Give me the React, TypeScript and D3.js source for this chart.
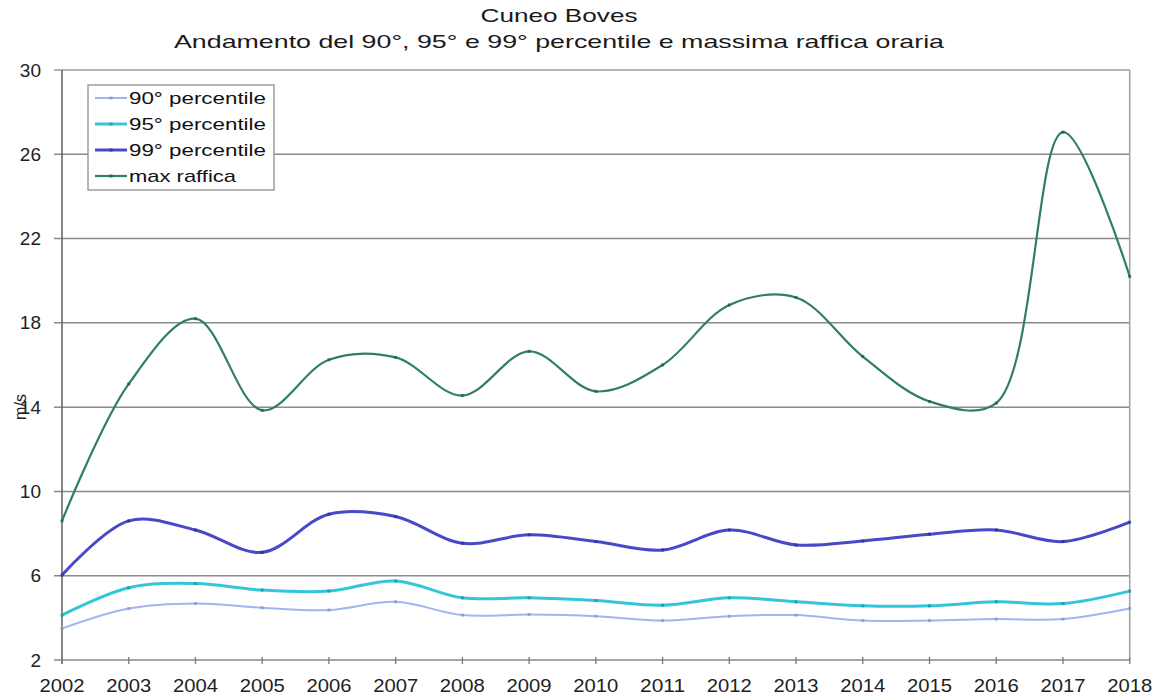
import React from "react";
import * as d3 from "d3";

const years = [2002, 2003, 2004, 2005, 2006, 2007, 2008, 2009, 2010, 2011, 2012, 2013, 2014, 2015, 2016, 2017, 2018];
const p90 = [3.49, 4.44, 4.68, 4.48, 4.37, 4.76, 4.13, 4.16, 4.08, 3.87, 4.08, 4.13, 3.87, 3.87, 3.94, 3.94, 4.44];
const p95 = [4.13, 5.43, 5.63, 5.32, 5.27, 5.75, 4.95, 4.95, 4.82, 4.6, 4.95, 4.76, 4.57, 4.57, 4.76, 4.68, 5.27];
const p99 = [6.03, 8.6, 8.17, 7.11, 8.92, 8.81, 7.54, 7.94, 7.62, 7.22, 8.17, 7.46, 7.65, 7.97, 8.17, 7.62, 8.54];
const maxRaffica = [8.6, 15.1, 18.2, 13.85, 16.25, 16.36, 14.55, 16.65, 14.75, 16.0, 18.85, 19.2, 16.4, 14.27, 14.19, 27.05, 20.2];
const yTicks = [2, 6, 10, 14, 18, 22, 26, 30];
const seriesNames = ["90° percentile", "95° percentile", "99° percentile", "max raffica"];
const title1 = "Cuneo Boves";
const title2 = "Andamento del 90°, 95° e 99° percentile e massima raffica oraria";
const yLabel = "m/s";

const W = 1154;
const H = 695;
const left = 62;
const right = 1129.7;
const top = 70;
const bottom = 660;

const series = [
  { name: seriesNames[0], values: p90, color: "#a3b4ee", width: 2, mark: "#8090d0" },
  { name: seriesNames[1], values: p95, color: "#33c6da", width: 3, mark: "#1c8c9c" },
  { name: seriesNames[2], values: p99, color: "#4848c8", width: 3, mark: "#2a2a90" },
  { name: seriesNames[3], values: maxRaffica, color: "#2f7f62", width: 2.2, mark: "#1f5a44" },
];

const FONT = "'Liberation Sans', Arial, sans-serif";

export default function App() {
  const x = d3.scaleLinear().domain([2002, 2018]).range([left, right]);
  const y = d3.scaleLinear().domain([2, 30]).range([bottom, top]);
  const line = d3
    .line<number>()
    .x((_, i) => x(years[i]))
    .y((v) => y(v))
    .curve(d3.curveCatmullRom.alpha(0.5));

  const legX = 88;
  const legY = 85;
  const legW = 186;
  const legH = 105;
  const rowY = [98, 124, 150, 176];

  return (
    <svg width={W} height={H} style={{ position: "absolute", left: 0, top: 0, background: "#fff" }} fontFamily={FONT}>
      <rect x={0} y={0} width={W} height={H} fill="#fff" />
      {/* titles */}
      <text x={559} y={22} fontSize={19} textAnchor="middle" fill="#1a1a1a" textLength={157} lengthAdjust="spacingAndGlyphs">
        {title1}
      </text>
      <text x={559} y={48} fontSize={19} textAnchor="middle" fill="#1a1a1a" textLength={770} lengthAdjust="spacingAndGlyphs">
        {title2}
      </text>

      {/* gridlines */}
      {yTicks.map((t) => (
        <line key={"g" + t} x1={left - 8} x2={right} y1={y(t)} y2={y(t)} stroke={t === 30 ? "#9a9a9a" : "#8a8a8a"} strokeWidth={1.5} />
      ))}
      {/* plot borders */}
      <line x1={right} x2={right} y1={top} y2={bottom} stroke="#a0a0a0" strokeWidth={1.5} />
      <line x1={left} x2={left} y1={top} y2={bottom + 4} stroke="#6a6a6a" strokeWidth={1.6} />
      {/* x ticks */}
      {years.map((yr) => (
        <line key={"xt" + yr} x1={x(yr)} x2={x(yr)} y1={bottom - 3} y2={bottom + 4} stroke="#7a7a7a" strokeWidth={1.3} />
      ))}

      {/* y tick labels */}
      {yTicks.map((t) => (
        <text key={"yl" + t} x={41} y={y(t) + 6.5} fontSize={19} textAnchor="end" fill="#222">
          {t}
        </text>
      ))}
      {/* x tick labels */}
      {years.map((yr) => (
        <text key={"xl" + yr} x={x(yr)} y={692} fontSize={19} textAnchor="middle" fill="#222" textLength={45} lengthAdjust="spacingAndGlyphs">
          {yr}
        </text>
      ))}
      {/* y axis label */}
      <text transform={`translate(26,407) rotate(-90)`} fontSize={16} textAnchor="middle" fill="#222">
        {yLabel}
      </text>

      {/* series */}
      {series.map((s) => (
        <g key={s.name}>
          <path d={line(s.values) || ""} fill="none" stroke={s.color} strokeWidth={s.width} strokeLinejoin="round" />
          {s.values.map((v, i) => (
            <rect key={i} x={x(years[i]) - 1.5} y={y(v) - 1.5} width={3} height={3} fill={s.mark} opacity={0.7} />
          ))}
        </g>
      ))}

      {/* legend */}
      <rect x={legX} y={legY} width={legW} height={legH} fill="#fff" stroke="#909090" strokeWidth={1.3} />
      {series.map((s, i) => (
        <g key={"lg" + i}>
          <line x1={95} x2={127} y1={rowY[i]} y2={rowY[i]} stroke={s.color} strokeWidth={s.width} />
          <rect x={109.5} y={rowY[i] - 1.5} width={3} height={3} fill={s.mark} opacity={0.7} />
          <text
            x={129}
            y={rowY[i] + 6}
            fontSize={17}
            fill="#111"
            textLength={s.name === "max raffica" ? 107 : 137}
            lengthAdjust="spacingAndGlyphs"
          >
            {s.name}
          </text>
        </g>
      ))}
    </svg>
  );
}
